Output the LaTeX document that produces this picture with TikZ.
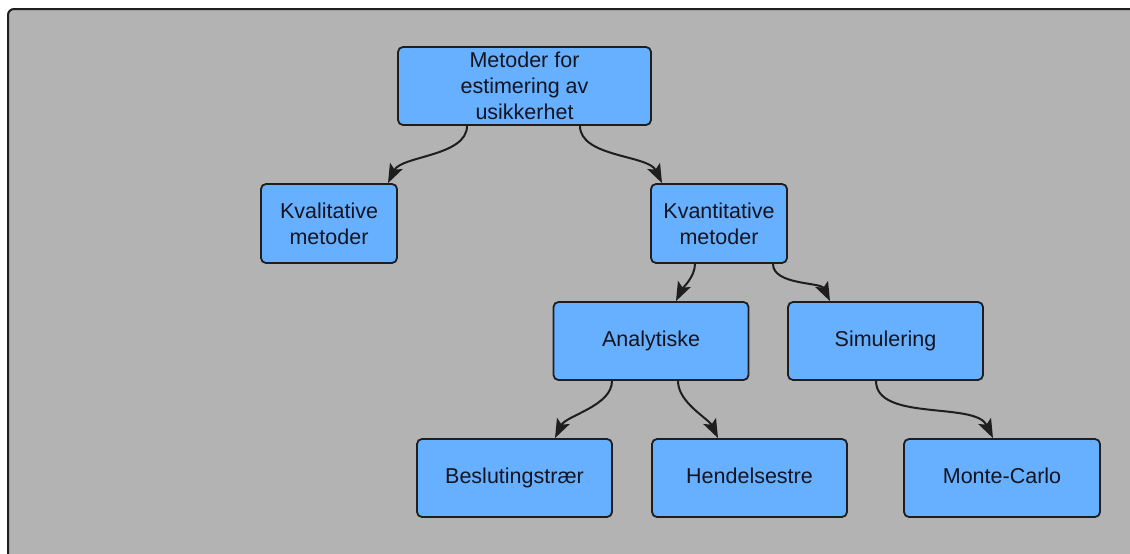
\documentclass[tikz,border=0pt]{standalone}
\usepackage{fontspec}
\setmainfont{Liberation Sans}
\usetikzlibrary{arrows.meta}
\definecolor{bggray}{HTML}{B3B3B3}
\definecolor{boxblue}{HTML}{66B0FF}
\definecolor{edge}{HTML}{1E1E1E}
\definecolor{txt}{HTML}{141420}
\tikzset{
  box/.style={draw=edge, line width=1.8pt, rounded corners=5pt, fill=boxblue,
    minimum height=78pt, align=center, text=txt, inner sep=2pt,
    font=\fontsize{21.5pt}{26pt}\selectfont},
  onebox/.style={box, text height=15.5pt, text depth=4.5pt},
  conn/.style={draw=edge, line width=2pt, -{Stealth[length=19pt,width=14pt,inset=4pt]},
    out=-90, looseness=0.8},
  connL/.style={conn, in=64},
  connR/.style={conn, in=116}
}
\begin{document}
\begin{tikzpicture}[x=1pt,y=-1pt]
\useasboundingbox (0,0) rectangle (1130,554);
\draw[draw=edge, line width=2pt, fill=bggray, rounded corners=6pt] (8,9) rectangle (1145,570);
\node[box, minimum width=253pt] (top) at (524.5,86) {Metoder for\\estimering av\\usikkerhet};
\node[box, minimum width=136pt, minimum height=79pt] (kval) at (329,223.5) {Kvalitative\\metoder};
\node[box, minimum width=136pt, minimum height=79pt] (kvant) at (719,223.5) {Kvantitative\\metoder};
\node[onebox, minimum width=195pt] (anal) at (651,341) {Analytiske};
\node[onebox, minimum width=195pt] (sim) at (885.5,341) {Simulering};
\node[onebox, minimum width=195pt] (besl) at (514.5,478) {Beslutingstrær};
\node[onebox, minimum width=195pt] (hend) at (749.5,478) {Hendelsestre};
\node[onebox, minimum width=196pt] (monte) at (1002,478) {Monte-Carlo};
\draw[connL] ([xshift=-57.5pt]top.south) to ([xshift=59pt]kval.north);
\draw[connR] ([xshift=55.5pt]top.south) to ([xshift=-57pt]kvant.north);
\draw[connL] ([xshift=-24pt]kvant.south) to ([xshift=25pt]anal.north);
\draw[connR] ([xshift=54pt]kvant.south) to ([xshift=-55.5pt]sim.north);
\draw[connL] ([xshift=-39pt]anal.south) to ([xshift=40.5pt]besl.north);
\draw[connR] ([xshift=27pt]anal.south) to ([xshift=-31.5pt]hend.north);
\draw[connR] ([xshift=-9.5pt]sim.south) to ([xshift=-9pt]monte.north);
\end{tikzpicture}
\end{document}
